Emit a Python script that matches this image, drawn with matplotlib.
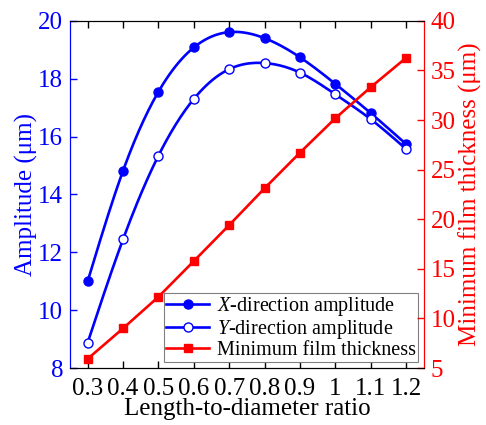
import numpy as np
import matplotlib
matplotlib.use('Agg')
import matplotlib.pyplot as plt

plt.rcParams['font.family'] = 'Liberation Serif'
plt.rcParams['mathtext.fontset'] = 'custom'
plt.rcParams['mathtext.rm'] = 'Liberation Serif'
plt.rcParams['mathtext.it'] = 'Liberation Serif:italic'

# length-to-diameter ratio
ratio = [0.3, 0.4, 0.5, 0.6, 0.7, 0.8, 0.9, 1.0, 1.1, 1.2]
tick_labels = ['0.3', '0.4', '0.5', '0.6', '0.7', '0.8', '0.9', '1', '1.1', '1.2']

# amplitudes (um)
x_amp = [11.0, 14.82, 17.55, 19.08, 19.61, 19.40, 18.74, 17.82, 16.81, 15.74]
y_amp = [8.88, 12.45, 15.34, 17.30, 18.33, 18.54, 18.21, 17.46, 16.60, 15.57]

# minimum film thickness (um)
film = [5.93, 9.0, 12.18, 15.78, 19.41, 23.12, 26.71, 30.18, 33.31, 36.27]

BLUE = '#0000ff'
RED = '#ff0000'


def natural_spline(x, y, n=200):
    # natural cubic spline through the given points
    x = np.asarray(x, float)
    y = np.asarray(y, float)
    k = len(x)
    h = np.diff(x)
    A = np.zeros((k, k))
    b = np.zeros(k)
    A[0, 0] = A[-1, -1] = 1
    for i in range(1, k - 1):
        A[i, i - 1] = h[i - 1]
        A[i, i] = 2 * (h[i - 1] + h[i])
        A[i, i + 1] = h[i]
        b[i] = 6 * ((y[i + 1] - y[i]) / h[i] - (y[i] - y[i - 1]) / h[i - 1])
    m = np.linalg.solve(A, b)
    xs = np.linspace(x[0], x[-1], n)
    idx = np.clip(np.searchsorted(x, xs) - 1, 0, k - 2)
    x0, x1 = x[idx], x[idx + 1]
    hh = x1 - x0
    t0, t1 = x1 - xs, xs - x0
    ys = (m[idx] * t0 ** 3 + m[idx + 1] * t1 ** 3) / (6 * hh) \
        + (y[idx] / hh - m[idx] * hh / 6) * t0 \
        + (y[idx + 1] / hh - m[idx + 1] * hh / 6) * t1
    return xs, ys


fig = plt.figure(figsize=(4.86, 4.25), dpi=100)
ax = fig.add_axes([0.144, 0.134, 0.728, 0.817])
ax2 = ax.twinx()

sx, sy = natural_spline(ratio, x_amp)
ax.plot(sx, sy, color=BLUE, lw=1.9)
ax.plot(ratio, x_amp, 'o', color=BLUE, ms=6.5)
sx, sy = natural_spline(ratio, y_amp)
ax.plot(sx, sy, color=BLUE, lw=1.9)
ax.plot(ratio, y_amp, 'o', mfc='white', mec=BLUE, mew=1.0, ms=6.5)

ax2.plot(ratio, film, '-s', color=RED, lw=1.9, ms=6)

# legend handles
h1, = ax.plot([], [], '-o', color=BLUE, lw=1.9, ms=6.5)
h2, = ax.plot([], [], '-o', color=BLUE, mfc='white', mew=1.0, lw=1.9, ms=6.5)
h3, = ax.plot([], [], '-s', color=RED, lw=1.9, ms=6)
leg = ax.legend([h1, h2, h3],
                ['$X$-direction amplitude', '$Y$-direction amplitude', 'Minimum film thickness'],
                loc='lower right', fontsize=14.5, fancybox=False, framealpha=1,
                borderaxespad=0.3, handlelength=2.1, handletextpad=0.4,
                borderpad=0.1, labelspacing=0.0)
leg.get_frame().set_edgecolor('#808080')
leg.get_frame().set_linewidth(0.8)
leg.set_zorder(5)

ax.set_xlim(0.25, 1.25)
ax.set_ylim(8, 20)
ax2.set_ylim(5, 40)
ax.set_xticks(ratio)
ax.set_xticklabels(tick_labels)
ax.set_yticks([8, 10, 12, 14, 16, 18, 20])
ax2.set_yticks([5, 10, 15, 20, 25, 30, 35, 40])

ax.tick_params(axis='x', direction='in', top=True, labelsize=18, length=5, width=1, pad=7)
ax.tick_params(axis='y', direction='in', colors=BLUE, labelsize=18, length=5, width=1, pad=5)
ax2.tick_params(axis='y', direction='in', colors=RED, labelsize=18, length=5, width=1, pad=5)

for a in (ax, ax2):
    a.spines['left'].set_color(BLUE)
    a.spines['right'].set_color(RED)

ax.set_xlabel('Length-to-diameter ratio', fontsize=18, labelpad=-1)
ax.set_ylabel('Amplitude (\u03bcm)', fontsize=18, color=BLUE, labelpad=0)
ax2.set_ylabel('Minimum film thickness (\u03bcm)', fontsize=18, color=RED, labelpad=2)

fig.savefig('out.png', dpi=100)
